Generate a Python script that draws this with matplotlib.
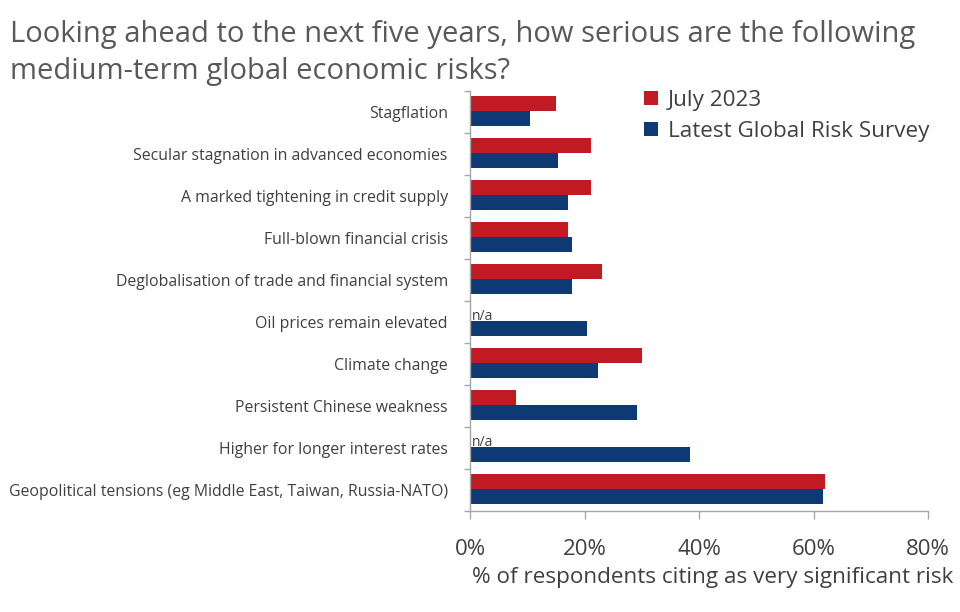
import matplotlib
matplotlib.use("Agg")
import matplotlib.pyplot as plt
from matplotlib.patches import Patch
from matplotlib.ticker import FixedLocator, FuncFormatter

plt.rcParams['font.family'] = ['Open Sans', 'DejaVu Sans']

categories = [
    "Stagflation",
    "Secular stagnation in advanced economies",
    "A marked tightening in credit supply",
    "Full-blown financial crisis",
    "Deglobalisation of trade and financial system",
    "Oil prices remain elevated",
    "Climate change",
    "Persistent Chinese weakness",
    "Higher for longer interest rates",
    "Geopolitical tensions (eg Middle East, Taiwan, Russia-NATO)",
]
july_2023 = [15.1, 21.1, 21.1, 17.1, 23.1, None, 30.1, 8.0, None, 62.0]
latest = [10.4, 15.4, 17.1, 17.9, 17.9, 20.5, 22.3, 29.2, 38.5, 61.7]
series_names = ["July 2023", "Latest Global Risk Survey"]
x_ticks = [0, 20, 40, 60, 80]

RED = "#C21A22"
BLUE = "#0D3A72"
TXT = "#404040"
AX = "#A6A6A6"

fig = plt.figure(figsize=(9.6, 6.12), dpi=100)
ax = fig.add_axes([470/960, 1 - 511/612, 458/960, 420/612])

n = len(categories)
ys = list(range(n))
h = 0.36
for i in ys:
    v = july_2023[i]
    if v is not None:
        ax.barh(i - 0.2, v, height=h, color=RED, edgecolor='none')
    else:
        ax.text(0.3, i - 0.13, "n/a", fontsize=10, color=TXT, va='center', ha='left')
    ax.barh(i + 0.16, latest[i], height=h, color=BLUE, edgecolor='none')

ax.set_xlim(0, 80)
ax.set_ylim(n - 0.5, -0.5)
ax.set_xticks(x_ticks)
ax.xaxis.set_major_formatter(FuncFormatter(lambda v, p: f"{v:.0f}%"))
ax.tick_params(axis='x', length=6, width=1, color=AX, labelsize=16, labelcolor=TXT, pad=14)

ax.set_yticks(ys)
ax.set_yticklabels(categories)
ax.yaxis.set_minor_locator(FixedLocator([i - 0.5 for i in range(n + 1)]))
ax.tick_params(axis='y', which='major', length=0, labelsize=11.4, labelcolor=TXT, pad=16)
ax.tick_params(axis='y', which='minor', length=4, width=1, color=AX)

for s in ['top', 'right']:
    ax.spines[s].set_visible(False)
for s in ['left', 'bottom']:
    ax.spines[s].set_color(AX)
    ax.spines[s].set_linewidth(1)

ax.set_xlabel("% of respondents citing as very significant risk", fontsize=16.2, color=TXT)
ax.xaxis.set_label_coords((713 - 470) / 458, -(578 - 511) / 420)
ax.xaxis.label.set_va('center')

fig.text(10/960, 1 - 53/612, "Looking ahead to the next five years, how serious are the following\nmedium-term global economic risks?",
         fontsize=21, color="#595959", ha='left', va='center', linespacing=1.33)

handles = [Patch(facecolor=RED, edgecolor='none'), Patch(facecolor=BLUE, edgecolor='none')]
fig.legend(handles, series_names, loc='upper left', bbox_to_anchor=(644/960, 1 - 90/612),
           frameon=False, fontsize=16.2, labelcolor=TXT, handlelength=0.6, handleheight=0.6,
           handletextpad=0.45, labelspacing=0.45, borderaxespad=0, borderpad=0)

fig.savefig("out.png", dpi=100)
